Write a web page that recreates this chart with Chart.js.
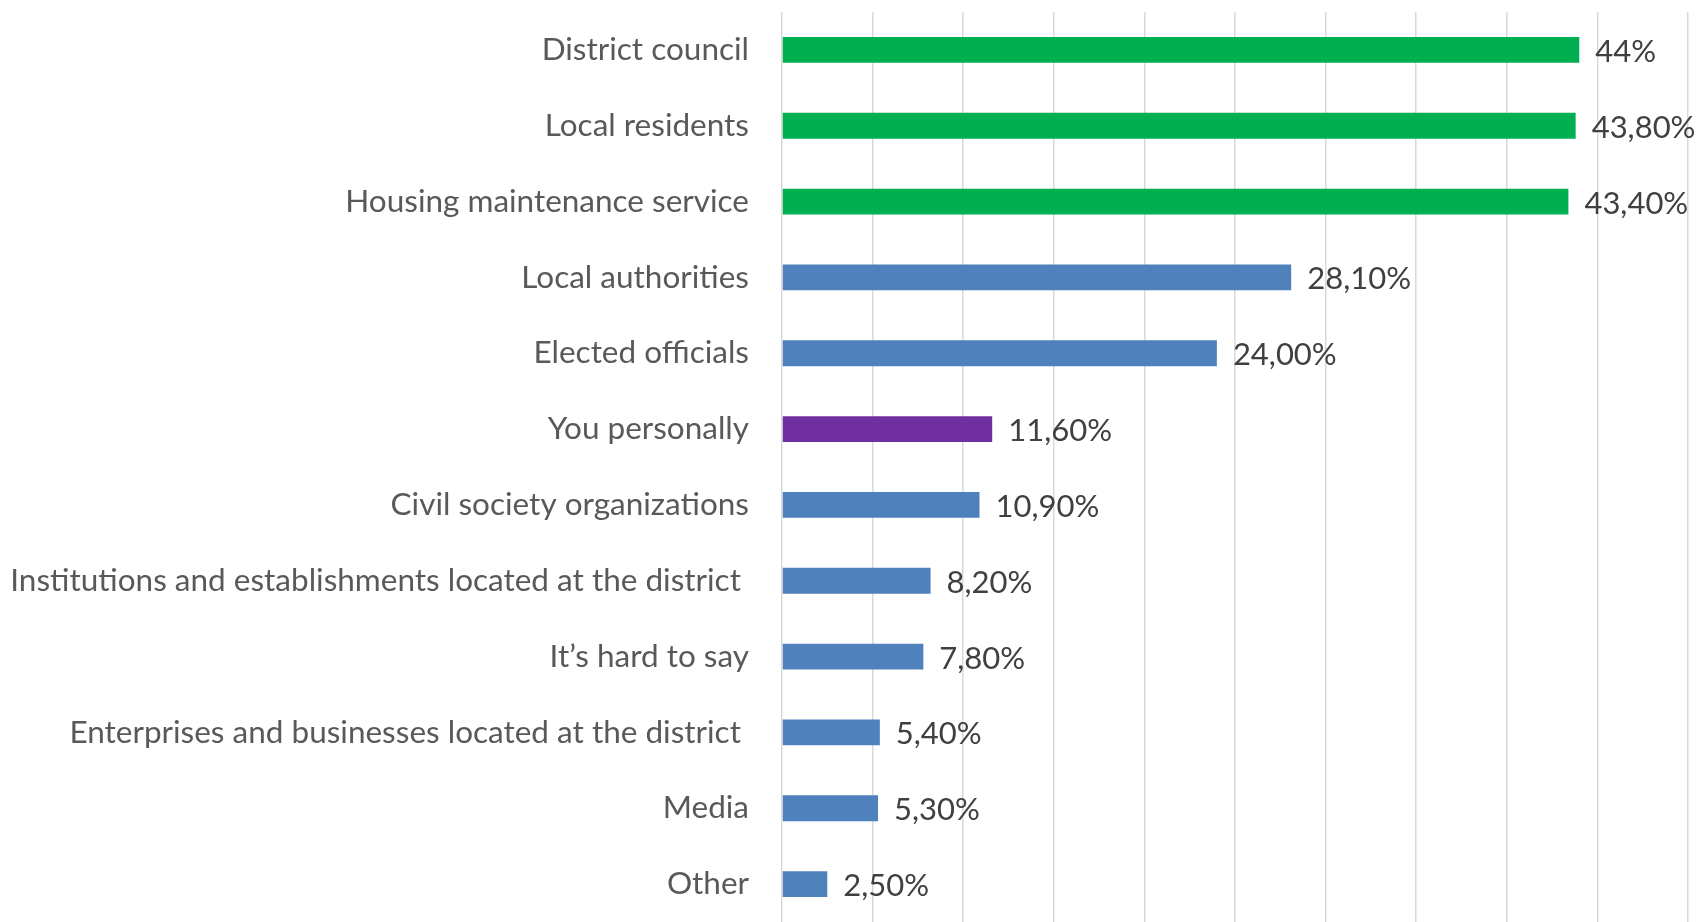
<!DOCTYPE html>
<html>
<head>
<meta charset="utf-8">
<script src="https://cdn.jsdelivr.net/npm/chart.js@4/dist/chart.umd.min.js"></script>
<style>
  html, body { margin: 0; padding: 0; background: #fff; }
  #wrap { width: 1696px; height: 922px; }
</style>
</head>
<body>
<div id="wrap"><canvas id="chart"></canvas></div>
<script>
// Data
const categories = [
  'District council',
  'Local residents',
  'Housing maintenance service',
  'Local authorities',
  'Elected officials',
  'You personally',
  'Civil society organizations',
  'Institutions and establishments located at the district ',
  'It\u2019s hard to say',
  'Enterprises and businesses located at the district ',
  'Media',
  'Other'
];
const shares = [44, 43.8, 43.4, 28.1, 24.0, 11.6, 10.9, 8.2, 7.8, 5.4, 5.3, 2.5];
const shareLabels = ['44%', '43,80%', '43,40%', '28,10%', '24,00%', '11,60%', '10,90%', '8,20%', '7,80%', '5,40%', '5,30%', '2,50%'];
const barColors = ['#00B050', '#00B050', '#00B050', '#4F81BD', '#4F81BD', '#7030A0',
                   '#4F81BD', '#4F81BD', '#4F81BD', '#4F81BD', '#4F81BD', '#4F81BD'];

const FONT = 'Lato, "Open Sans", sans-serif';

// draw the % label to the right of each bar
const valueLabels = {
  id: 'valueLabels',
  afterDatasetsDraw(chart) {
    const ctx = chart.ctx;
    const meta = chart.getDatasetMeta(0);
    ctx.save();
    ctx.font = '31px ' + FONT;
    ctx.fillStyle = '#404040';
    ctx.textAlign = 'left';
    ctx.textBaseline = 'middle';
    meta.data.forEach((bar, i) => {
      ctx.fillText(shareLabels[i], bar.x + 16, bar.y + 2);
    });
    ctx.restore();
  }
};

new Chart(document.getElementById('chart'), {
  type: 'bar',
  data: {
    labels: categories,
    datasets: [{
      data: shares,
      backgroundColor: barColors,
      categoryPercentage: 1,
      barPercentage: 0.34
    }]
  },
  options: {
    indexAxis: 'y',
    responsive: true,
    maintainAspectRatio: false,
    animation: false,
    layout: { padding: { top: 12, right: 8, bottom: 0, left: 0 } },
    plugins: { legend: { display: false }, tooltip: { enabled: false } },
    scales: {
      x: {
        min: 0, max: 50,
        ticks: { stepSize: 5, display: false },
        grid: { color: '#D9D9D9', lineWidth: 1.5, drawTicks: false },
        border: { display: false },
        afterFit(scale) { scale.height = 0; scale.paddingLeft = 0; scale.paddingRight = 0; }
      },
      y: {
        grid: { display: false, drawTicks: false },
        border: { display: false },
        ticks: { color: '#595959', font: { family: FONT, size: 31.5 }, padding: 33, autoSkip: false },
        afterFit(scale) { scale.width = 782; scale.paddingTop = 0; scale.paddingBottom = 0; }
      }
    }
  },
  plugins: [valueLabels]
});
</script>
</body>
</html>
